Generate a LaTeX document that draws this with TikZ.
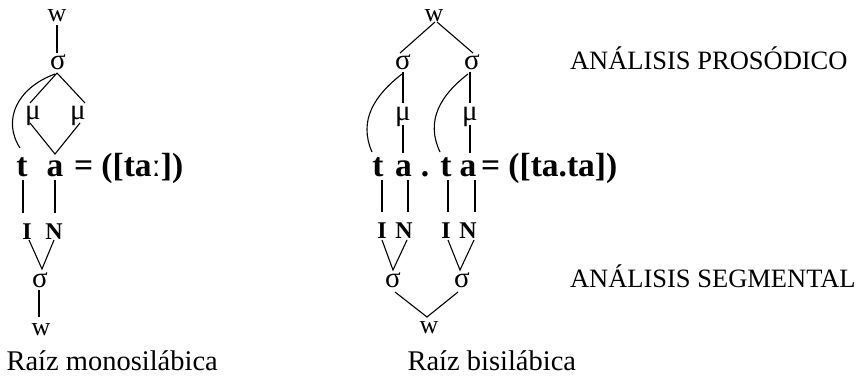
\documentclass[tikz,border=0pt]{standalone}
\usepackage{fontspec}
\setmainfont{Liberation Serif}
\usetikzlibrary{calc}
\newcommand\symf{\fontsize{26}{30}\selectfont}
\newcommand\grkf{\fontsize{29}{32}\selectfont}
\newcommand\bigb{\fontsize{33.5}{38}\selectfont\bfseries}
\newcommand\midb{\fontsize{24}{28}\selectfont\bfseries}
\newcommand\capf{\fontsize{26.5}{30}\selectfont}
\newcommand\capt{\fontsize{28.5}{32}\selectfont}
\begin{document}
\begin{tikzpicture}[x=1pt,y=-1pt,line width=1.1pt,
  sym/.style={inner sep=0pt,outer sep=0pt,anchor=base,font=\symf},
  grk/.style={inner sep=0pt,outer sep=0pt,anchor=base,font=\grkf},
  seg/.style={inner sep=0pt,outer sep=0pt,anchor=base,font=\bigb},
  cls/.style={inner sep=0pt,outer sep=0pt,anchor=base,font=\midb},
  lab/.style={inner sep=0pt,outer sep=0pt,anchor=base west,font=\capf},
  caption/.style={inner sep=0pt,outer sep=0pt,anchor=base west,font=\capt}]
\useasboundingbox (0,0) rectangle (859,385);
% ---------- left diagram ----------
\node[sym] (wT1) at (57,22) {w};
\node[grk] (sT1) at (58,70) {σ};
\node[grk] (mA) at (33,120) {μ};
\node[grk] (mB) at (78,120) {μ};
\node[seg] (t1) at (22,176) {t};
\node[seg] (a1) at (55,176) {a};
\node[seg,anchor=base west] (eq1) at (74,176) {= ([taː])};
\node[cls] (I1) at (27,239) {I};
\node[cls] (N1) at (54,239) {N};
\node[grk] (sB1) at (40,287) {σ};
\node[sym] (wB1) at (41,335) {w};
\node[caption] (cap1) at (6.5,370) {Raíz monosilábica};
\draw ($(wT1.base)+(0,3)$) -- ($(sT1.base)+(-1,-17)$);
\draw ($(sT1.base)+(-1,3)$) -- ($(mA.base)+(-3,-17)$);
\draw ($(sT1.base)+(-1,3)$) -- ($(mB.base)+(7,-17)$);
\draw ($(mA.base)+(-3,3)$) -- ($(a1.base)+(0,-22)$) -- ($(mB.base)+(2,3)$);
\draw ($(sT1.base)+(-3,4)$) .. controls (17,88) and (2,120) .. ($(t1.base)+(-2,-28)$);
\draw ($(t1.base)+(1,4)$) -- ($(I1.base)+(-4,-26)$);
\draw ($(a1.base)+(0,4)$) -- ($(N1.base)+(1,-26)$);
\draw ($(I1.base)+(2,1)$) -- ($(sB1.base)+(2,-18)$) -- ($(N1.base)+(0,1)$);
\draw ($(sB1.base)+(-1,3)$) -- ($(wB1.base)+(-2,-18)$);
% ---------- right diagram ----------
\node[sym] (wT2) at (434,22) {w};
\node[grk] (sT2a) at (403,70) {σ};
\node[grk] (sT2b) at (472,70) {σ};
\node[grk] (mC) at (403,121) {μ};
\node[grk] (mD) at (470,121) {μ};
\node[seg] (t2) at (378,176) {t};
\node[seg] (a2) at (403.5,176) {a};
\node[seg] (dot) at (425,176) {.};
\node[seg] (t3) at (446,176) {t};
\node[seg] (a3) at (468,176) {a};
\node[seg,anchor=base west] (eq2) at (481,176) {= ([ta.ta])};
\node[cls] (I2) at (382,238) {I};
\node[cls] (N2) at (404,238) {N};
\node[cls] (I3) at (446,238) {I};
\node[cls] (N3) at (468,238) {N};
\node[grk] (sB2a) at (393,287) {σ};
\node[grk] (sB2b) at (462,287) {σ};
\node[sym] (wB2) at (429,333) {w};
\node[caption] (cap2) at (407.5,370) {Raíz bisilábica};
\node[lab] (pros) at (570,70) {ANÁLISIS PROSÓDICO};
\node[lab] (segm) at (570,287) {ANÁLISIS SEGMENTAL};
\draw ($(sT2a.base)+(-3,-17)$) -- ($(wT2.base)+(1,0)$);
\draw ($(wT2.base)+(3,0)$) -- ($(sT2b.base)+(1,-17)$);
\draw ($(sT2a.base)+(0,2)$) -- ($(mC.base)+(0,-18)$);
\draw ($(mC.base)+(0,4)$) -- ($(a2.base)+(-0.5,-23)$);
\draw ($(sT2b.base)+(-2,2)$) -- ($(mD.base)+(0,-18)$);
\draw ($(mD.base)+(0,4)$) -- ($(a3.base)+(2,-23)$);
\draw ($(sT2a.base)+(-1,4)$) .. controls (375,95) and (358,120) .. ($(t2.base)+(-6,-24)$);
\draw ($(sT2b.base)+(-4,4)$) .. controls (441,95) and (425,120) .. ($(t3.base)+(-6,-24)$);
\draw ($(t2.base)+(4,4)$) -- ($(I2.base)+(0,-26)$);
\draw ($(a2.base)+(4.5,4)$) -- ($(N2.base)+(4,-26)$);
\draw ($(t3.base)+(2,4)$) -- ($(I3.base)+(2,-26)$);
\draw ($(a3.base)+(7,4)$) -- ($(N3.base)+(7,-26)$);
\draw ($(I2.base)+(0,2)$) -- ($(sB2a.base)+(0,-17)$) -- ($(N2.base)+(3,2)$);
\draw ($(I3.base)+(2,2)$) -- ($(sB2b.base)+(-2,-17)$) -- ($(N3.base)+(6,2)$);
\draw ($(sB2a.base)+(2,5)$) -- ($(wB2.base)+(-2,-16)$) -- ($(sB2b.base)+(-4,5)$);
\end{tikzpicture}
\end{document}
